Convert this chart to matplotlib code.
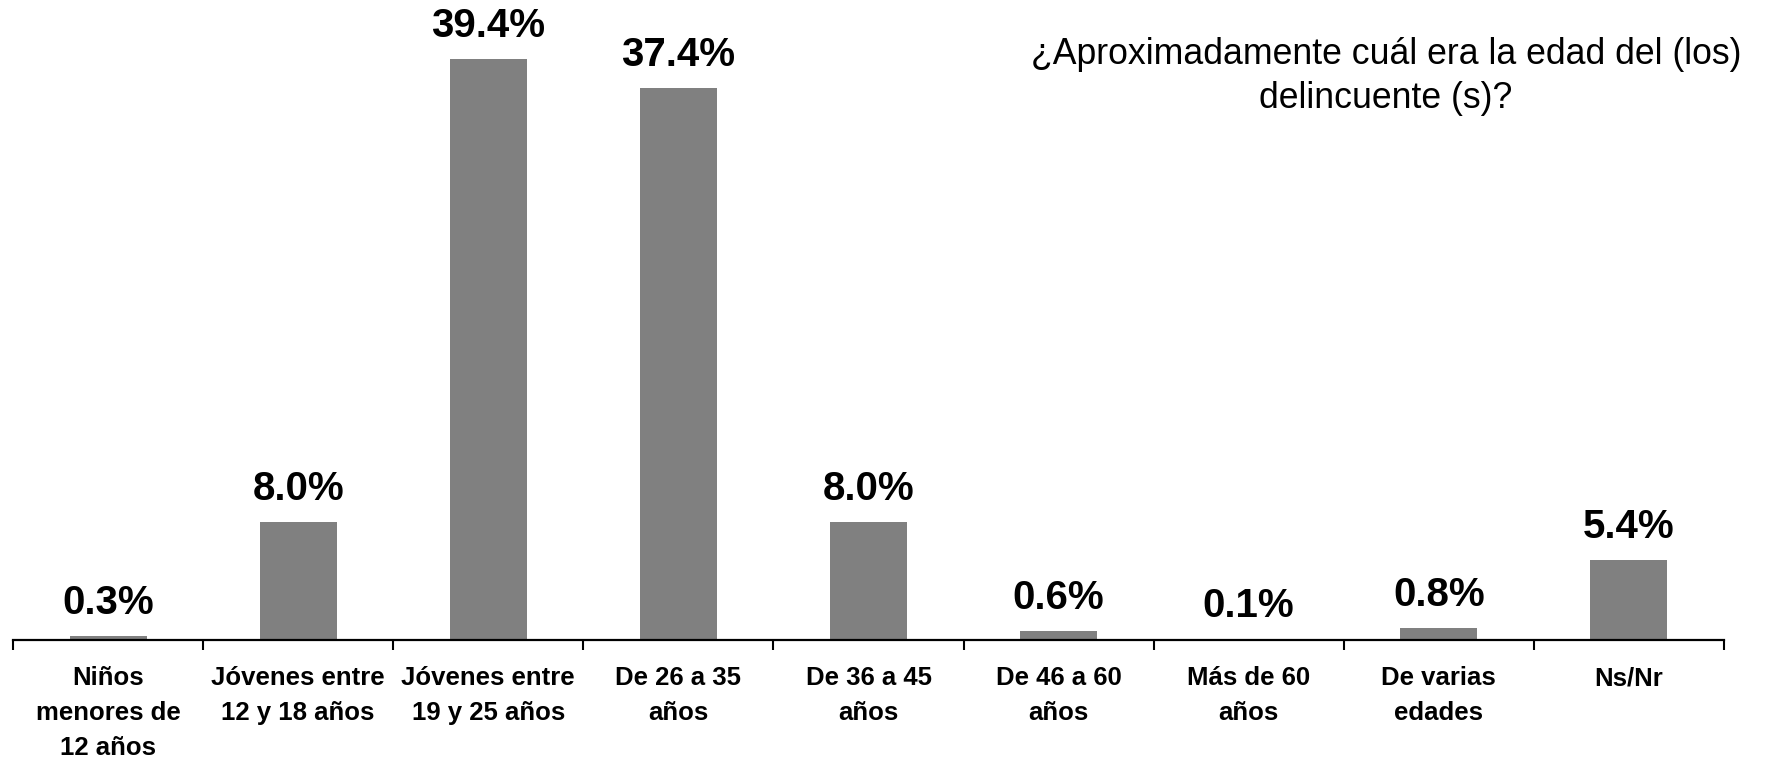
import matplotlib
matplotlib.use("Agg")
import matplotlib.pyplot as plt
import numpy as np

categories = [
    "Niños\nmenores de\n12 años",
    "Jóvenes entre\n12 y 18 años",
    "Jóvenes entre\n19 y 25 años",
    "De 26 a 35\naños",
    "De 36 a 45\naños",
    "De 46 a 60\naños",
    "Más de 60\naños",
    "De varias\nedades",
    "Ns/Nr",
]
values = [0.3, 8.0, 39.4, 37.4, 8.0, 0.6, 0.1, 0.8, 5.4]
title = "¿Aproximadamente cuál era la edad del (los)\ndelincuente (s)?"

plt.rcParams["font.family"] = ["Liberation Sans", "DejaVu Sans"]

fig = plt.figure(figsize=(17.87, 7.57), dpi=100)
ax = fig.add_axes([13 / 1787, 117 / 757, (1724 - 13) / 1787, 590 / 757])

x = np.arange(len(categories))
ax.bar(x, values, width=0.405, color="#808080", zorder=2)

for xi, v in zip(x, values):
    ax.annotate(f"{v:.1f}%", (xi, v), xytext=(0, 10), textcoords="offset points",
                ha="center", va="bottom", fontsize=29, fontweight="bold")

ax.set_xlim(-0.5, len(categories) - 0.5)
ax.set_ylim(0, 40)

for side in ("top", "right", "left"):
    ax.spines[side].set_visible(False)
ax.spines["bottom"].set_linewidth(1.6)
ax.set_yticks([])

ax.set_xticks(x)
ax.set_xticklabels(categories, fontsize=18.5, fontweight="bold", linespacing=1.58)
ax.tick_params(axis="x", which="major", length=0, pad=19)
ax.set_xticks(np.arange(-0.5, len(categories)), minor=True)
ax.tick_params(axis="x", which="minor", length=7, width=1.5, direction="out")

fig.text(1386 / 1787, 1 - 37 / 757, title, ha="center", va="top",
         fontsize=25.7, linespacing=1.35)

fig.savefig("out.png", dpi=100, facecolor="white")
